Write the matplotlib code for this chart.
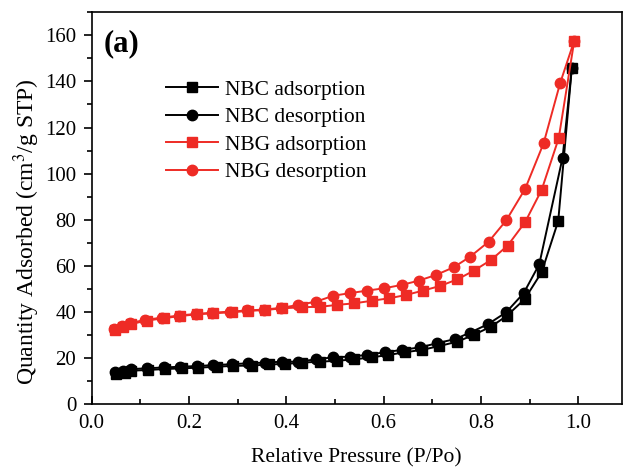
import matplotlib
matplotlib.use('Agg')
import matplotlib.pyplot as plt
from matplotlib.ticker import MultipleLocator

# NBC (black) isotherm
nbc_ads_x = [0.051, 0.068, 0.082, 0.116, 0.150, 0.185, 0.219, 0.257, 0.291, 0.329, 0.364,
             0.398, 0.432, 0.470, 0.504, 0.540, 0.576, 0.610, 0.644, 0.679, 0.715, 0.752,
             0.785, 0.821, 0.853, 0.890, 0.925, 0.959, 0.987]
nbc_ads_y = [13.1, 13.8, 14.6, 14.9, 15.3, 15.6, 15.9, 16.3, 16.7, 16.8, 17.3,
             17.5, 18.1, 18.5, 18.9, 19.5, 20.4, 21.4, 22.6, 23.6, 25.3, 27.2,
             30.1, 33.7, 38.3, 45.6, 57.3, 79.5, 146.0]
nbc_des_x = [0.048, 0.065, 0.081, 0.113, 0.148, 0.182, 0.216, 0.250, 0.288, 0.322, 0.357,
             0.391, 0.425, 0.461, 0.497, 0.531, 0.566, 0.603, 0.638, 0.675, 0.710, 0.747,
             0.778, 0.815, 0.852, 0.888, 0.920, 0.968, 0.987]
nbc_des_y = [13.9, 14.6, 15.3, 15.6, 16.0, 16.3, 16.6, 17.0, 17.4, 17.8, 18.1,
             18.5, 18.5, 19.5, 20.4, 20.7, 21.4, 22.6, 23.6, 24.7, 26.5, 28.3,
             31.1, 34.8, 39.9, 48.2, 60.7, 107.0, 146.0]

# NBG (red) isotherm
nbg_ads_x = [0.048, 0.065, 0.081, 0.113, 0.148, 0.182, 0.216, 0.250, 0.288, 0.322, 0.357,
             0.391, 0.432, 0.470, 0.504, 0.540, 0.576, 0.612, 0.646, 0.681, 0.716, 0.752,
             0.786, 0.821, 0.855, 0.891, 0.925, 0.960, 0.992]
nbg_ads_y = [32.2, 33.4, 34.8, 36.3, 37.3, 38.3, 39.0, 39.5, 39.9, 40.5, 40.9,
             41.6, 42.1, 42.3, 43.1, 43.8, 44.9, 46.0, 47.4, 49.3, 51.3, 54.2,
             58.0, 62.6, 68.8, 79.0, 93.0, 115.4, 157.7]
nbg_des_x = [0.046, 0.062, 0.078, 0.110, 0.145, 0.180, 0.214, 0.248, 0.285, 0.320, 0.355,
             0.389, 0.425, 0.461, 0.497, 0.531, 0.566, 0.601, 0.638, 0.672, 0.708, 0.744,
             0.778, 0.816, 0.852, 0.891, 0.929, 0.963, 0.992]
nbg_des_y = [32.6, 33.8, 35.2, 36.6, 37.6, 38.5, 39.2, 39.7, 40.2, 40.7, 41.1,
             41.8, 43.1, 44.5, 47.1, 48.2, 49.3, 50.3, 51.8, 53.6, 56.1, 59.4,
             64.0, 70.5, 79.7, 93.4, 113.2, 139.3, 157.7]

red = '#ee2b25'

plt.rcParams['font.family'] = ['Liberation Serif', 'DejaVu Serif']
plt.rcParams['mathtext.fontset'] = 'stix'

fig = plt.figure(figsize=(6.27, 4.68), dpi=100)
ax = fig.add_axes([0.146, 0.136, 0.846, 0.838])

ax.plot(nbc_ads_x, nbc_ads_y, 'k-', marker='s', ms=6.5, lw=1.4, label='NBC adsorption')
ax.plot(nbc_des_x, nbc_des_y, 'k-', marker='o', ms=7.5, lw=1.4, label='NBC desorption')
ax.plot(nbg_ads_x, nbg_ads_y, '-', color=red, marker='s', ms=6.5, lw=1.4, label='NBG adsorption')
ax.plot(nbg_des_x, nbg_des_y, '-', color=red, marker='o', ms=7.5, lw=1.4, label='NBG desorption')

ax.set_xlim(0, 1.09)
ax.set_ylim(0, 170)
ax.xaxis.set_major_locator(MultipleLocator(0.2))
ax.xaxis.set_minor_locator(MultipleLocator(0.1))
ax.yaxis.set_major_locator(MultipleLocator(20))
ax.yaxis.set_minor_locator(MultipleLocator(10))
ax.tick_params(axis='x', which='both', direction='in', top=False, labelsize=15, pad=7)
ax.tick_params(axis='y', which='both', direction='out', right=False, labelsize=15, pad=5)
ax.tick_params(which='major', length=6, width=1.2)
ax.tick_params(which='minor', length=3.5, width=1.2)
for s in ax.spines.values():
    s.set_linewidth(1.2)

ax.set_xlabel('Relative Pressure (P/Po)', fontsize=15.5, labelpad=11)
ax.set_ylabel('Quantity Adsorbed (cm$^3$/g STP)', fontsize=17)
ax.yaxis.set_label_coords(-0.093, 0.44)

ax.text(0.022, 0.9, '(a)', transform=ax.transAxes, fontsize=22, fontweight='bold')

ax.legend(loc='upper left', bbox_to_anchor=(0.125, 0.85), frameon=False, fontsize=15.5,
          handlelength=2.4, handletextpad=0.3, labelspacing=0.35, borderaxespad=0)

fig.savefig('out.png', dpi=100)
